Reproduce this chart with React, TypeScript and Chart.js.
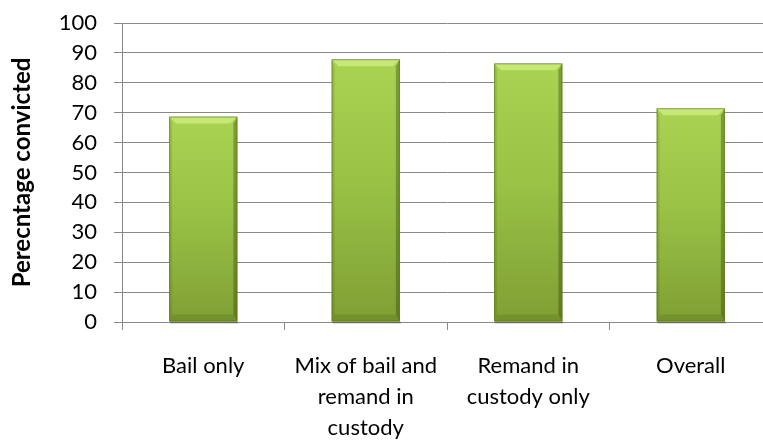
import React, { useEffect, useRef } from "react";
import { Chart, registerables } from "chart.js";

Chart.register(...registerables);

const categories: (string | string[])[] = [
  "Bail only",
  ["Mix of bail and", "remand in", "custody"],
  ["Remand in", "custody only"],
  "Overall",
];
const convictedPct: number[] = [68.7, 87.9, 86.5, 71.5];
const yAxisTitle = "Perecntage convicted";

const bevelPlugin = {
  id: "bevel",
  afterDatasetsDraw(chart: any) {
    const ctx = chart.ctx;
    const meta = chart.getDatasetMeta(0);
    meta.data.forEach((bar: any) => {
      const { x, y, base, width } = bar.getProps(["x", "y", "base", "width"], true);
      const l = x - width / 2;
      const r = x + width / 2;
      const t = y;
      const b = base;
      const bv = 7;
      ctx.save();
      ctx.fillStyle = "rgba(0,0,0,0.25)";
      ctx.fillRect(l + 1, b, width, 2);
      // top bevel
      ctx.beginPath();
      ctx.moveTo(l, t);
      ctx.lineTo(r, t);
      ctx.lineTo(r - bv, t + bv);
      ctx.lineTo(l + bv, t + bv);
      ctx.closePath();
      ctx.fillStyle = "rgba(225,255,150,0.5)";
      ctx.fill();
      // right bevel
      ctx.beginPath();
      ctx.moveTo(r, t);
      ctx.lineTo(r, b);
      ctx.lineTo(r - 4, b - bv);
      ctx.lineTo(r - 4, t + bv);
      ctx.closePath();
      ctx.fillStyle = "rgba(40,60,0,0.35)";
      ctx.fill();
      // bottom bevel
      ctx.beginPath();
      ctx.moveTo(l, b);
      ctx.lineTo(r, b);
      ctx.lineTo(r - 4, b - bv);
      ctx.lineTo(l + 3, b - bv);
      ctx.closePath();
      ctx.fillStyle = "rgba(40,60,0,0.15)";
      ctx.fill();
      // left bevel
      ctx.beginPath();
      ctx.moveTo(l, t);
      ctx.lineTo(l, b);
      ctx.lineTo(l + 3, b - bv);
      ctx.lineTo(l + 3, t + bv);
      ctx.closePath();
      ctx.fillStyle = "rgba(60,90,0,0.15)";
      ctx.fill();
      ctx.strokeStyle = "rgba(80,110,20,0.55)";
      ctx.lineWidth = 1;
      ctx.strokeRect(l + 0.5, t + 0.5, width - 1, b - t - 1);
      ctx.restore();
    });
  },
};

export default function App() {
  const ref = useRef<HTMLCanvasElement>(null);
  useEffect(() => {
    const canvas = ref.current!;
    const chart = new Chart(canvas, {
      type: "bar",
      data: {
        labels: categories,
        datasets: [
          {
            data: convictedPct,
            backgroundColor: (c: any) => {
              const ch = c.chart;
              const ys = ch.scales?.y;
              if (!ys || !ch.chartArea || c.dataIndex === undefined) return "#95bb45";
              const top = ys.getPixelForValue(convictedPct[c.dataIndex]);
              const bot = ys.getPixelForValue(0);
              const g = ch.ctx.createLinearGradient(0, top, 0, bot);
              g.addColorStop(0, "#aad353");
              g.addColorStop(0.45, "#9ac346");
              g.addColorStop(1, "#7f9f34");
              return g;
            },
            borderWidth: 0,
            barPercentage: 0.42,
            categoryPercentage: 1,
          },
        ],
      },
      options: {
        animation: false,
        responsive: false,
        devicePixelRatio: 1,
        layout: { padding: { top: 23, right: 8, left: 0, bottom: 0 } },
        plugins: { legend: { display: false }, tooltip: { enabled: false } },
        scales: {
          x: {
            grid: {
              display: true,
              drawOnChartArea: false,
              drawTicks: true,
              tickLength: 8,
              color: "#888888",
              offset: true,
            },
            border: { display: true, color: "#888888" },
            ticks: {
              color: "#000000",
              font: { family: "Lato", size: 22, lineHeight: 1.4 },
              maxRotation: 0,
              autoSkip: false,
              padding: 21,
            },
            afterFit: (s: any) => {
              s.height = 119;
              s.paddingLeft = 0;
              s.paddingRight = 0;
            },
          },
          y: {
            min: 0,
            max: 100,
            grid: { color: "#888888", tickLength: 8 },
            border: { display: true, color: "#888888" },
            ticks: {
              stepSize: 10,
              autoSkip: false,
              maxTicksLimit: 20,
              color: "#000000",
              font: { family: "Lato", size: 22 },
              padding: 17,
            },
            title: {
              display: true,
              text: yAxisTitle,
              color: "#000000",
              font: { family: "Lato", size: 24, weight: "bold" },
              padding: { top: 8, bottom: 0 },
            },
            afterFit: (s: any) => {
              s.width = 122;
              s.paddingTop = 0;
              s.paddingBottom = 0;
            },
          },
        },
      },
      plugins: [bevelPlugin],
    });
    return () => chart.destroy();
  }, []);
  return (
    <div
      style={{
        position: "fixed",
        left: 0,
        top: 0,
        width: 763,
        height: 441,
        overflow: "hidden",
        background: "#ffffff",
      }}
    >
      <canvas ref={ref} width={780} height={441} style={{ width: 780, height: 441, display: "block" }} />
    </div>
  );
}
